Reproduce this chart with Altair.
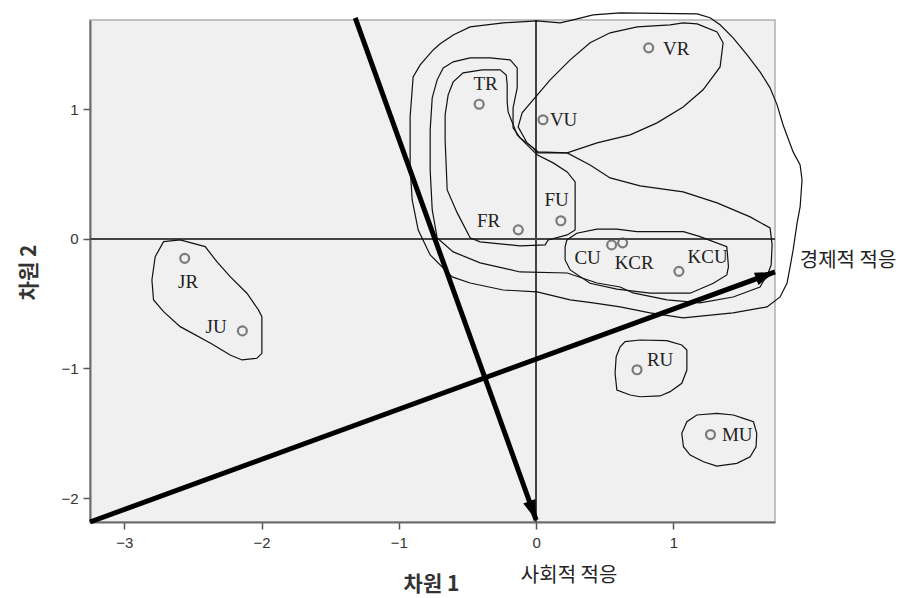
import math
import altair as alt
import pandas as pd

# ---- points (dimension 1, dimension 2) ----
pt_names = ["VR", "TR", "VU", "FU", "FR", "CU", "KCR", "KCU", "JR", "JU", "RU", "MU"]
pt_x = [0.82, -0.415, 0.05, 0.18, -0.13, 0.55, 0.63, 1.04, -2.56, -2.14, 0.735, 1.27]
pt_y = [1.475, 1.04, 0.92, 0.14, 0.07, -0.046, -0.03, -0.25, -0.15, -0.71, -1.01, -1.51]
# label anchor (centre of text) in data units
lab_x = [1.020, -0.368, 0.200, 0.149, -0.346, 0.375, 0.714, 1.249, -2.535, -2.331, 0.903, 1.465]
lab_y = [1.467, 1.193, 0.915, 0.297, 0.135, -0.151, -0.189, -0.143, -0.336, -0.683, -0.938, -1.510]

# ---- property vectors (arrows) ----
arrow_names = ["사회적 적응", "경제적 적응"]
arrow_x0 = [-1.318, -3.25]
arrow_y0 = [1.707, -2.185]
arrow_x1 = [0.0, 1.74]
arrow_y1 = [-2.17, -0.255]
arrow_lab_x = [0.240, 2.272]
arrow_lab_y = [-2.602, -0.174]

# ---- hand-drawn cluster outlines (data units) ----
outline_outer = [(-0.750, 1.459), (-0.699, 1.506), (-0.604, 1.575), (-0.481, 1.637), (-0.240, 1.668),
                 (0.007, 1.683), (0.175, 1.668), (0.269, 1.691), (0.415, 1.730), (0.612, 1.745),
                 (1.173, 1.737), (1.267, 1.707), (1.340, 1.653), (1.435, 1.552), (1.537, 1.421),
                 (1.631, 1.290), (1.704, 1.166), (1.755, 1.035), (1.799, 0.880), (1.872, 0.672),
                 (1.923, 0.571), (1.937, 0.456), (1.923, 0.247), (1.901, 0.124), (1.872, -0.085),
                 (1.850, -0.216), (1.828, -0.340), (1.777, -0.448), (1.682, -0.525), (1.435, -0.571),
                 (1.071, -0.610), (0.830, -0.571), (0.612, -0.525), (0.415, -0.494), (0.248, -0.471),
                 (0.007, -0.409), (-0.240, -0.394), (-0.481, -0.340), (-0.612, -0.293), (-0.772, -0.124),
                 (-0.859, 0.069), (-0.903, 0.301), (-0.918, 0.556), (-0.918, 0.942), (-0.896, 1.251),
                 (-0.845, 1.344)]
outline_middle = [(-0.677, 1.320), (-0.604, 1.367), (-0.481, 1.398), (-0.335, 1.398), (-0.189, 1.382),
                  (-0.138, 1.320), (-0.138, 1.166), (-0.168, 1.012), (-0.168, 0.857), (-0.117, 0.780),
                  (-0.022, 0.703), (0.007, 0.664), (0.226, 0.664), (0.393, 0.571), (0.539, 0.471),
                  (0.757, 0.409), (1.071, 0.363), (1.318, 0.278), (1.559, 0.170), (1.704, 0.085),
                  (1.719, -0.046), (1.712, -0.201), (1.690, -0.263), (1.631, -0.371), (1.435, -0.448),
                  (1.194, -0.494), (0.954, -0.471), (0.706, -0.417), (0.612, -0.371), (0.444, -0.340),
                  (0.226, -0.263), (-0.117, -0.255), (-0.408, -0.185), (-0.604, -0.100), (-0.721, 0.008),
                  (-0.757, 0.224), (-0.772, 0.533), (-0.772, 0.842), (-0.757, 1.089), (-0.721, 1.228)]
outline_inner = [(-0.663, 0.958), (-0.641, 1.112), (-0.604, 1.212), (-0.532, 1.282), (-0.393, 1.305),
                 (-0.262, 1.305), (-0.218, 1.266), (-0.211, 1.189), (-0.211, 1.058), (-0.204, 0.981),
                 (-0.175, 0.903), (-0.138, 0.803), (-0.066, 0.726), (0.007, 0.649), (0.124, 0.587),
                 (0.226, 0.517), (0.284, 0.440), (0.284, 0.069), (0.226, 0.031), (0.087, -0.008),
                 (0.066, -0.046), (-0.117, -0.054), (-0.408, -0.023), (-0.481, 0.008), (-0.575, 0.201),
                 (-0.648, 0.378), (-0.663, 0.764)]
outline_vr = [(-0.131, 0.865), (-0.066, 0.741), (0.015, 0.672), (0.226, 0.664), (0.444, 0.741),
              (0.685, 0.803), (0.881, 0.896), (1.071, 1.019), (1.216, 1.151), (1.340, 1.328),
              (1.362, 1.514), (1.318, 1.598), (1.173, 1.660), (1.071, 1.668), (0.976, 1.653),
              (0.736, 1.637), (0.539, 1.591), (0.393, 1.514), (0.248, 1.382), (0.102, 1.228),
              (-0.022, 1.073), (-0.102, 0.973)]
outline_kc = [(0.211, -0.059), (0.224, -0.008), (0.296, 0.044), (0.442, 0.075), (0.588, 0.075),
              (0.733, 0.056), (1.073, 0.056), (1.194, 0.018), (1.389, -0.059), (1.401, -0.214),
              (1.389, -0.278), (1.291, -0.342), (1.122, -0.419), (0.830, -0.419), (0.588, -0.388),
              (0.393, -0.342), (0.248, -0.239), (0.211, -0.162)]
outline_j = [(-2.714, -0.021), (-2.593, -0.008), (-2.411, -0.059), (-2.326, -0.176), (-2.229, -0.291),
             (-2.107, -0.419), (-2.023, -0.548), (-1.998, -0.600), (-1.998, -0.883), (-2.034, -0.921),
             (-2.143, -0.934), (-2.229, -0.896), (-2.371, -0.805), (-2.593, -0.677), (-2.714, -0.561),
             (-2.787, -0.471), (-2.799, -0.317), (-2.775, -0.137)]
outline_ru = [(0.648, -0.793), (0.757, -0.780), (0.952, -0.785), (1.061, -0.819), (1.098, -0.857),
              (1.098, -1.012), (1.061, -1.114), (0.976, -1.179), (0.903, -1.212), (0.757, -1.218),
              (0.685, -1.205), (0.588, -1.166), (0.575, -1.037), (0.583, -0.909), (0.612, -0.832)]
outline_mu = [(1.170, -1.359), (1.316, -1.346), (1.437, -1.359), (1.510, -1.385), (1.583, -1.411),
              (1.607, -1.500), (1.602, -1.604), (1.559, -1.681), (1.462, -1.732), (1.316, -1.753),
              (1.219, -1.720), (1.122, -1.668), (1.073, -1.604), (1.061, -1.500), (1.098, -1.411)]

x_ticks = [-3, -2, -1, 0, 1]
y_ticks = [-2, -1, 0, 1]
x_domain = [-3.25, 1.74]
y_domain = [-2.185, 1.69]

W, H = 685, 502

# ---- tables ----
pts = pd.DataFrame({"name": pt_names, "x": pt_x, "y": pt_y, "lx": lab_x, "ly": lab_y})

rows = []
for cid, poly in enumerate([outline_outer, outline_middle, outline_inner, outline_vr, outline_kc,
                            outline_j, outline_ru, outline_mu]):
    for i, (a, b) in enumerate(poly):
        rows.append({"cid": cid, "i": i, "x": a, "y": b})
outl = pd.DataFrame(rows)

kx = W / (x_domain[1] - x_domain[0])
ky = H / (y_domain[1] - y_domain[0])
angles = []
for a0, b0, a1, b1 in zip(arrow_x0, arrow_y0, arrow_x1, arrow_y1):
    dxp = (a1 - a0) * kx
    dyp = -(b1 - b0) * ky
    angles.append(math.degrees(math.atan2(dxp, -dyp)) % 360)
arr = pd.DataFrame({"name": arrow_names, "x0": arrow_x0, "y0": arrow_y0, "x1": arrow_x1,
                    "y1": arrow_y1, "lx": arrow_lab_x, "ly": arrow_lab_y, "angle": angles})

xs = alt.Scale(domain=x_domain, nice=False, zero=False)
ys = alt.Scale(domain=y_domain, nice=False, zero=False)

x_axis = alt.Axis(values=x_ticks, grid=False, format="d", domainColor="#6a6a6a", domainWidth=2,
                  tickColor="#555", tickSize=7, tickWidth=1.5, labelFont="Liberation Sans",
                  labelFontSize=15, labelColor="#333", labelPadding=6, title="차원 1",
                  titleFont="Noto Sans CJK KR", titleFontSize=21, titleFontWeight="bold",
                  titleColor="#333", titleX=341, titleY=62, titleAlign="center",
                  titleBaseline="middle")
y_axis = alt.Axis(values=y_ticks, grid=False, format="d", domainColor="#6a6a6a", domainWidth=2,
                  tickColor="#555", tickSize=7, tickWidth=1.5, labelFont="Liberation Sans",
                  labelFontSize=15, labelColor="#333", labelPadding=5, title="차원 2",
                  titleFont="Noto Sans CJK KR", titleFontSize=21, titleFontWeight="bold",
                  titleColor="#333", titleX=-61, titleY=252, titleAlign="center",
                  titleBaseline="middle", titleAngle=270)

base_pts = alt.Chart(pts)

axes_layer = base_pts.mark_point(opacity=0).encode(
    x=alt.X("x:Q", scale=xs, axis=x_axis),
    y=alt.Y("y:Q", scale=ys, axis=y_axis),
)

zero_v = alt.Chart(pts).mark_rule(color="#444", strokeWidth=1.5).encode(x=alt.datum(0))
zero_h = alt.Chart(pts).mark_rule(color="#444", strokeWidth=1.5).encode(y=alt.datum(0))

outlines = alt.Chart(outl).mark_line(color="#111", strokeWidth=1.2, interpolate="linear-closed").encode(
    x=alt.X("x:Q", scale=xs), y=alt.Y("y:Q", scale=ys), detail="cid:N", order="i:Q"
)

points = base_pts.mark_point(shape="circle", filled=False, size=80, strokeWidth=2.2,
                             color="#4a4a4a").encode(x=alt.X("x:Q", scale=xs), y=alt.Y("y:Q", scale=ys))

labels = base_pts.mark_text(font="Liberation Serif", fontSize=19, color="#222").encode(
    x=alt.X("lx:Q", scale=xs), y=alt.Y("ly:Q", scale=ys), text="name:N"
)

arrow_lines = alt.Chart(arr).mark_rule(color="black", strokeWidth=5).encode(
    x=alt.X("x0:Q", scale=xs), y=alt.Y("y0:Q", scale=ys), x2="x1:Q", y2="y1:Q"
)
arrow_heads = alt.Chart(arr).mark_point(shape="M0,0 L-0.65,2 L0.65,2 Z", size=400, filled=True,
                                        color="black", opacity=1).encode(
    x=alt.X("x1:Q", scale=xs), y=alt.Y("y1:Q", scale=ys), angle=alt.Angle("angle:Q", scale=None)
)
arrow_labels = alt.Chart(arr).mark_text(font="Noto Sans CJK KR", fontSize=20, color="#222").encode(
    x=alt.X("lx:Q", scale=xs), y=alt.Y("ly:Q", scale=ys), text="name:N"
)

chart = alt.layer(
    axes_layer, zero_v, zero_h, outlines, points, labels, arrow_lines, arrow_heads, arrow_labels
).properties(
    width=W, height=H,
    autosize=alt.AutoSizeParams(type="none"),
    padding={"left": 82, "top": 12, "right": 126, "bottom": 76},
    background="white",
).configure_view(
    fill="#f0f0f0", stroke="#b0b0b0", strokeWidth=1.5
)

chart.save("out.html", embed_options={"renderer": "svg", "actions": False})
